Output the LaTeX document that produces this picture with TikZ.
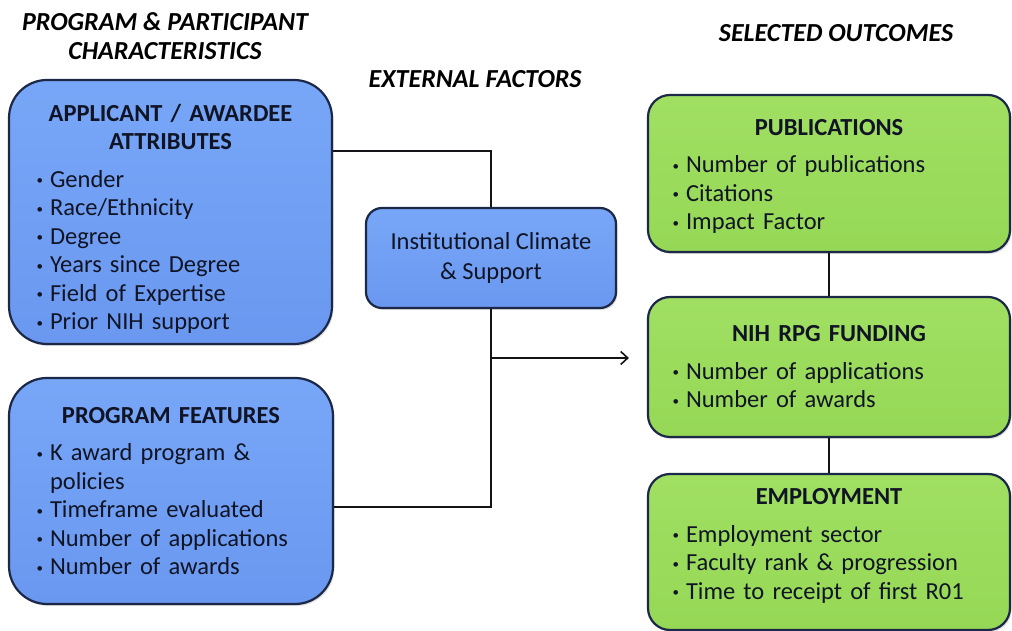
\documentclass[tikz,border=0pt]{standalone}
\usepackage{fontspec}
\setmainfont{Carlito}
\usetikzlibrary{arrows.meta,shadows}
\newcommand{\bitem}[1]{\par\hangindent=15pt\hangafter=1\noindent\makebox[15pt][l]{\hspace{1.5pt}\raisebox{2.5pt}{\fontsize{13}{13}\selectfont\textbullet}}#1}
\newcommand{\boxtitle}[1]{{\centering\bfseries #1\par}\vspace{9pt}}

\begin{document}
\begin{tikzpicture}[x=1pt, y=1pt, ink/.style={line width=1.6pt, lmInk}, panel/.style={draw=lmEdge, line width=2.2pt, align=left, inner xsep=0pt, inner ysep=0pt, text=lmText, font=\fontsize{24.5}{28.5}\selectfont, drop shadow={opacity=0.25, shadow xshift=1.5pt, shadow yshift=-2pt}}, factor/.style={panel, top color=lmBlueTop, bottom color=lmBlue, rounded corners=38pt}, outcome/.style={panel, top color=lmGreenTop, bottom color=lmGreen, rounded corners=22pt}, heading/.style={font=\fontsize{26}{29}\selectfont\bfseries\itshape, align=center, text=black}]
\definecolor{lmInk}{RGB}{20,20,24}
\definecolor{lmEdge}{RGB}{28,40,72}
\definecolor{lmText}{RGB}{16,20,36}
\definecolor{lmBlue}{RGB}{106,152,240}
\definecolor{lmBlueTop}{RGB}{120,166,247}
\definecolor{lmGreen}{RGB}{150,216,86}
\definecolor{lmGreenTop}{RGB}{160,223,98}
\useasboundingbox (0,0) rectangle (1012,631);
\node[heading] (progHead) at (165,594.5) {PROGRAM \& PARTICIPANT\\CHARACTERISTICS};
\node[heading] (extHead) at (475,552) {EXTERNAL FACTORS};
\node[heading] (outHead) at (836,598) {SELECTED OUTCOMES};
\node[factor, text width=271pt, minimum width=323pt, minimum height=264pt] (appl) at (170.5,419) {\boxtitle{APPLICANT / AWARDEE\par ATTRIBUTES}\bitem{Gender}\bitem{Race/Ethnicity}\bitem{Degree}\bitem{Years since Degree}\bitem{Field of Expertise}\bitem{Prior NIH support}\par\vspace{-14pt}};
\node[factor, text width=272pt, minimum width=324pt, minimum height=226pt] (prog) at (171,140) {\boxtitle{PROGRAM FEATURES}\bitem{K award program \&\newline policies}\bitem{Timeframe evaluated}\bitem{Number of applications}\bitem{Number of awards}};
\node[factor, rounded corners=16pt, align=center, minimum width=250pt, minimum height=100pt, font=\fontsize{24.5}{30}\selectfont] (inst) at (491,373) {Institutional Climate\\\& Support};
\node[outcome, text width=316pt, minimum width=362pt, minimum height=157pt] (pub) at (829,457.5) {\boxtitle{PUBLICATIONS}\bitem{Number of publications}\bitem{Citations}\bitem{Impact Factor}\par\vspace{-6pt}};
\node[outcome, text width=316pt, minimum width=362pt, minimum height=140pt] (fund) at (829,264) {\boxtitle{NIH RPG FUNDING}\bitem{Number of applications}\bitem{Number of awards}};
\node[outcome, text width=316pt, minimum width=362pt, minimum height=156pt] (emp) at (829,79) {\boxtitle{EMPLOYMENT}\bitem{Employment sector}\bitem{Faculty rank \& progression}\bitem{Time to receipt of first R01}\par\vspace{12pt}};
\draw[ink] ([yshift=61pt]appl.east) -| (inst.north);
\draw[ink] (inst.south) |- ([yshift=-16pt]prog.east);
\coordinate (tip) at ([xshift=-18pt, yshift=9pt]fund.west);
\draw[ink, -{Straight Barb[length=7pt, width=13pt]}] (inst.south |- tip) -- (tip);
\draw[ink] (pub.south) -- (fund.north);
\draw[ink] (fund.south) -- (emp.north);
\end{tikzpicture}
\end{document}
